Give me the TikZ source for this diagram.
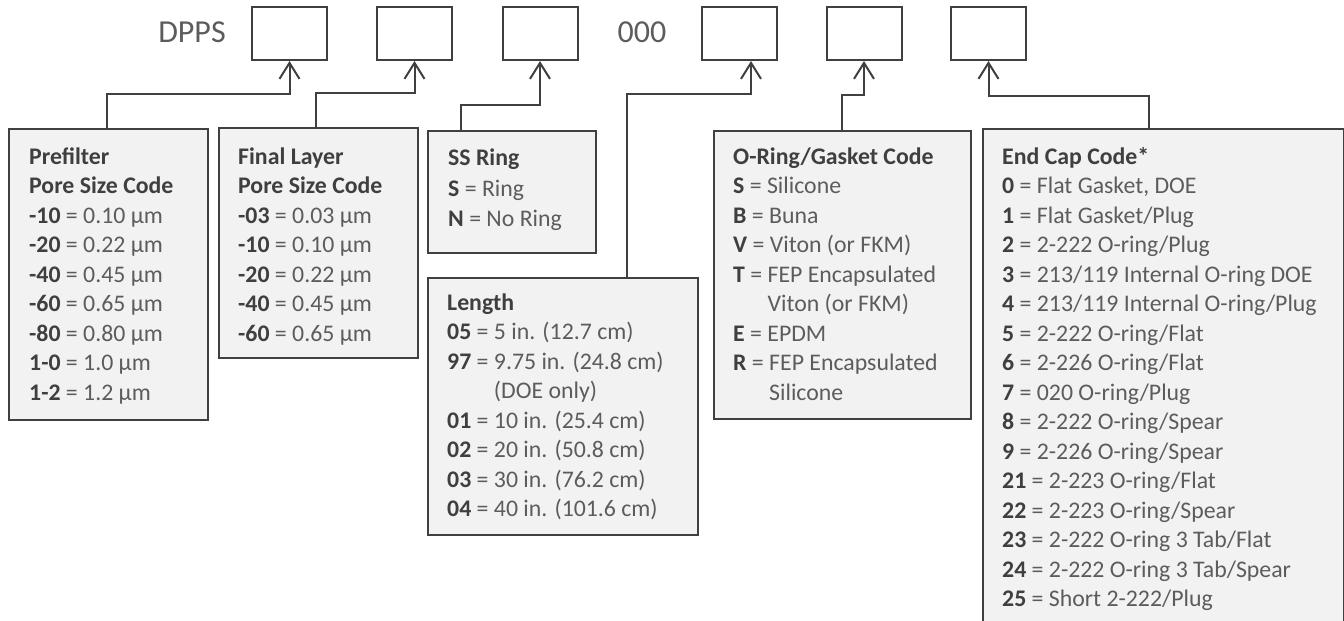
\documentclass[tikz,border=0pt]{standalone}
\usepackage{fontspec}
\setmainfont{Carlito}
\usepackage{tikz}
\usetikzlibrary{arrows.meta,positioning}
\definecolor{lineC}{HTML}{404040}
\definecolor{boxfill}{HTML}{F2F2F2}
\definecolor{codeC}{HTML}{3F3F3F}
\definecolor{textC}{HTML}{5C5C5C}
\tikzset{
  slot/.style={rectangle, draw=lineC, line width=2pt, fill=white,
               minimum width=75pt, minimum height=53pt, inner sep=0pt},
  infobox/.style={rectangle, draw=lineC, fill=boxfill, line width=1.8pt,
                  anchor=north west, inner sep=0pt},
  infotext/.style={anchor=north west, inner sep=0pt, align=left, text=textC,
                   font=\fontsize{23.8}{29.5}\selectfont},
  link/.style={draw=lineC, line width=2pt, -{Straight Barb[length=16pt,width=20pt]}},
  partlabel/.style={font=\fontsize{32}{38}\selectfont, text=textC, inner sep=0pt},
}
\newcommand{\pc}[1]{\textbf{\color{codeC}#1}}

\begin{document}
\begin{tikzpicture}[x=1pt, y=-1pt]
  \useasboundingbox (0,0) rectangle (1344,621);
  % Part number slots
  \node[partlabel, anchor=base] (dpps) at (192,42) {DPPS};
  \node[slot] (b1) at (289.5,33.5) {};
  \node[slot] (b2) at (414.5,33.5) {};
  \node[slot] (b3) at (540,33.5) {};
  \node[partlabel, anchor=base] (zeros) at (642,42) {000};
  \node[slot] (b4) at (739,33.5) {};
  \node[slot] (b5) at (864,33.5) {};
  \node[slot] (b6) at (988.5,33.5) {};
  % Code tables
  \node[infobox, minimum width=199pt, minimum height=291pt] (pre) at (8,128) {};
  \node[infotext] (pre-t) at (29,143.35) {\strut\pc{Prefilter}\\ \pc{Pore Size Code}\\
    \pc{-10} = 0.10 µm\\ \pc{-20} = 0.22 µm\\ \pc{-40} = 0.45 µm\\ \pc{-60} = 0.65 µm\\
    \pc{-80} = 0.80 µm\\ \pc{1-0} = 1.0 µm\\ \pc{1-2} = 1.2 µm};
  \node[infobox, minimum width=199pt, minimum height=230pt] (fin) at (218,127) {};
  \node[infotext] (fin-t) at (238,143.35) {\strut\pc{Final Layer}\\ \pc{Pore Size Code}\\
    \pc{-03} = 0.03 µm\\ \pc{-10} = 0.10 µm\\ \pc{-20} = 0.22 µm\\ \pc{-40} = 0.45 µm\\
    \pc{-60} = 0.65 µm};
  \node[infobox, minimum width=168pt, minimum height=122pt] (ssr) at (427,130) {};
  \node[infotext, font=\fontsize{23.8}{30.5}\selectfont] (ssr-t) at (448,144.2) {\strut\pc{SS Ring}\\
    \pc{S} = Ring\\ \pc{N} = No Ring};
  \node[infobox, minimum width=270pt, minimum height=257pt] (len) at (427,277) {};
  \node[infotext] (len-t) at (447,289.35) {\strut\pc{Length}\\
    \pc{05} = 5 in. (12.7 cm)\\ \pc{97} = 9.75 in. (24.8 cm)\\
    \phantom{\pc{97} = }(DOE only)\\ \pc{01} = 10 in. (25.4 cm)\\
    \pc{02} = 20 in. (50.8 cm)\\ \pc{03} = 30 in. (76.2 cm)\\ \pc{04} = 40 in. (101.6 cm)};
  \node[infobox, minimum width=257pt, minimum height=288pt] (ori) at (713,130) {};
  \node[infotext] (ori-t) at (733,143.35) {\strut\pc{O-Ring/Gasket Code}\\
    \pc{S} = Silicone\\ \pc{B} = Buna\\ \pc{V} = Viton (or FKM)\\
    \pc{T} = FEP Encapsulated\\ \phantom{\pc{T} = }Viton (or FKM)\\ \pc{E} = EPDM\\
    \pc{R} = FEP Encapsulated\\ \phantom{\pc{R} = }Silicone};
  \node[infobox, minimum width=361pt, minimum height=510pt] (endc) at (982,128) {};
  \node[infotext] (endc-t) at (1002,143.35) {\strut\pc{End Cap Code*}\\
    \pc{0} = Flat Gasket, DOE\\ \pc{1} = Flat Gasket/Plug\\ \pc{2} = 2-222 O-ring/Plug\\
    \pc{3} = 213/119 Internal O-ring DOE\\ \pc{4} = 213/119 Internal O-ring/Plug\\
    \pc{5} = 2-222 O-ring/Flat\\ \pc{6} = 2-226 O-ring/Flat\\ \pc{7} = 020 O-ring/Plug\\
    \pc{8} = 2-222 O-ring/Spear\\ \pc{9} = 2-226 O-ring/Spear\\ \pc{21} = 2-223 O-ring/Flat\\
    \pc{22} = 2-223 O-ring/Spear\\ \pc{23} = 2-222 O-ring 3 Tab/Flat\\
    \pc{24} = 2-222 O-ring 3 Tab/Spear\\ \pc{25} = Short 2-222/Plug};
  % Bends of the connectors
  \coordinate (k1) at (107,94);
  \coordinate (k2) at (316,93);
  \coordinate (k3) at (461,105);
  \coordinate (k4) at (627,94);
  \coordinate (k5) at (842,95);
  \coordinate (k6) at (1149,96);
  % Connectors
  \draw[link] (pre.north -| k1) -- (k1) -| (b1.south);
  \draw[link] (fin.north -| k2) -- (k2) -| (b2.south);
  \draw[link] (ssr.north -| k3) -- (k3) -| (b3.south);
  \draw[link] (len.north -| k4) -- (k4) -| ([xshift=12pt]b4.south);
  \draw[link] (ori.north -| k5) -- (k5) -| (b5.south);
  \draw[link] (endc.north -| k6) -- (k6) -| (b6.south);
\end{tikzpicture}
\end{document}
